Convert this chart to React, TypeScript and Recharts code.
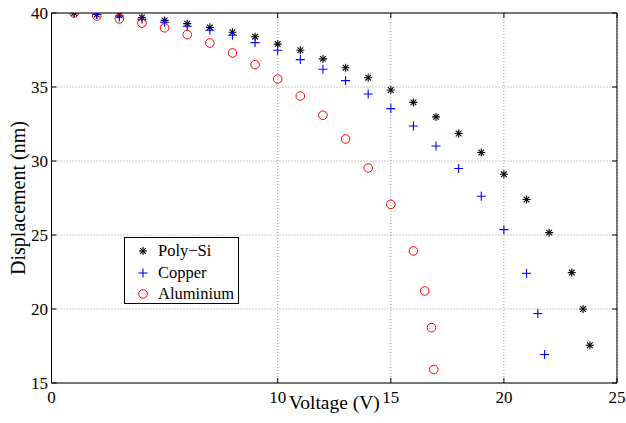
import React from 'react';
import {
  ScatterChart,
  Scatter,
  XAxis,
  YAxis,
  CartesianGrid,
  ReferenceArea,
} from 'recharts';

// ---- data ----
const polySiVoltage = [1, 2, 3, 4, 5, 6, 7, 8, 9, 10, 11, 12, 13, 14, 15, 16, 17, 18, 19, 20, 21, 22, 23, 23.5, 23.8];
const polySiDisp = [40, 39.9, 39.85, 39.7, 39.5, 39.28, 39.03, 38.7, 38.4, 37.9, 37.48, 36.9, 36.3, 35.63, 34.8, 33.96, 32.98, 31.86, 30.57, 29.1, 27.4, 25.16, 22.46, 20.0, 17.55];

const copperVoltage = [1, 2, 3, 4, 5, 6, 7, 8, 9, 10, 11, 12, 13, 14, 15, 16, 17, 18, 19, 20, 21, 21.5, 21.8];
const copperDisp = [40, 39.9, 39.73, 39.57, 39.37, 39.1, 38.83, 38.5, 38.0, 37.48, 36.85, 36.2, 35.43, 34.53, 33.54, 32.36, 31.01, 29.49, 27.62, 25.36, 22.41, 19.69, 16.92];

const aluminiumVoltage = [1, 2, 3, 4, 5, 6, 7, 8, 9, 10, 11, 12, 13, 14, 15, 16, 16.5, 16.8, 16.9];
const aluminiumDisp = [40, 39.8, 39.6, 39.32, 39.0, 38.54, 37.97, 37.3, 36.51, 35.54, 34.39, 33.09, 31.49, 29.53, 27.07, 23.92, 21.22, 18.74, 15.91];

const xTicks = [0, 10, 15, 20, 25];
const yTicks = [15, 20, 25, 30, 35, 40];
const seriesNames = ['Poly\u2212Si', 'Copper', 'Aluminium'];

const toPoints = (xs: number[], ys: number[]) => xs.map((x, i) => ({ x, y: ys[i] }));
const polySiData = toPoints(polySiVoltage, polySiDisp);
const copperData = toPoints(copperVoltage, copperDisp);
const aluminiumData = toPoints(aluminiumVoltage, aluminiumDisp);

// ---- layout constants ----
const W = 626;
const H = 423;
const PLOT_LEFT = 51.5;
const PLOT_RIGHT = 617;
const PLOT_TOP = 13;
const PLOT_BOTTOM = 383;
const FONT = "'Liberation Serif', 'DejaVu Serif', 'Times New Roman', serif";
const TICK_LEN = 5;

const Asterisk = ({ cx, cy, markerSize = 4 }: any) => {
  if (cx == null || cy == null) return null;
  const s = markerSize;
  const d = s * 0.7071;
  return (
    <g stroke="#000" strokeWidth={1.1}>
      <line x1={cx - s} y1={cy} x2={cx + s} y2={cy} />
      <line x1={cx} y1={cy - s} x2={cx} y2={cy + s} />
      <line x1={cx - d} y1={cy - d} x2={cx + d} y2={cy + d} />
      <line x1={cx - d} y1={cy + d} x2={cx + d} y2={cy - d} />
    </g>
  );
};

const Plus = ({ cx, cy, markerSize = 4.5 }: any) => {
  if (cx == null || cy == null) return null;
  const s = markerSize;
  return (
    <g stroke="#0000ff" strokeWidth={1.1}>
      <line x1={cx - s} y1={cy} x2={cx + s} y2={cy} />
      <line x1={cx} y1={cy - s} x2={cx} y2={cy + s} />
    </g>
  );
};

const Circle = ({ cx, cy, markerSize = 4.3 }: any) => {
  if (cx == null || cy == null) return null;
  return <circle cx={cx} cy={cy} r={markerSize} fill="none" stroke="#ff0000" strokeWidth={1} />;
};

const XTick = ({ x, payload }: any) => (
  <g>
    <line x1={x} y1={PLOT_BOTTOM} x2={x} y2={PLOT_BOTTOM - TICK_LEN} stroke="#000" strokeWidth={1} />
    <line x1={x} y1={PLOT_TOP} x2={x} y2={PLOT_TOP + TICK_LEN} stroke="#000" strokeWidth={1} />
    <text x={x} y={PLOT_BOTTOM + 19.5} textAnchor="middle" style={{ fontFamily: FONT, fontSize: 17 }} fill="#000">
      {payload.value}
    </text>
  </g>
);

const YTick = ({ y, payload }: any) => (
  <g>
    <line x1={PLOT_LEFT} y1={y} x2={PLOT_LEFT + TICK_LEN} y2={y} stroke="#000" strokeWidth={1} />
    <line x1={PLOT_RIGHT} y1={y} x2={PLOT_RIGHT - TICK_LEN} y2={y} stroke="#000" strokeWidth={1} />
    <text x={48} y={y} dy="0.38em" textAnchor="end" style={{ fontFamily: FONT, fontSize: 17 }} fill="#000">
      {payload.value}
    </text>
  </g>
);

const XLabel = ({ viewBox }: any) => {
  const cx = viewBox.x + viewBox.width / 2;
  return (
    <text x={cx} y={409} textAnchor="middle" style={{ fontFamily: FONT, fontSize: 19.5 }} fill="#000">
      Voltage (V)
    </text>
  );
};

const YLabel = ({ viewBox }: any) => {
  const cy = viewBox.y + viewBox.height / 2;
  return (
    <text
      x={25}
      y={cy}
      transform={`rotate(-90, 25, ${cy})`}
      textAnchor="middle"
      style={{ fontFamily: FONT, fontSize: 20 }}
      fill="#000"
    >
      Displacement (nm)
    </text>
  );
};

const legendMarkers = [
  <Asterisk cx={9} cy={9} markerSize={4} />,
  <Plus cx={9} cy={9} markerSize={4.5} />,
  <Circle cx={9} cy={9} markerSize={4.3} />,
];

export default function App() {
  return (
    <div style={{ position: 'absolute', left: 0, top: 0, width: W, height: H, background: '#fff' }}>
      <ScatterChart width={W} height={H} margin={{ top: PLOT_TOP, right: W - PLOT_RIGHT, bottom: 0, left: 0 }}>
        <CartesianGrid stroke="#999" strokeDasharray="1 2" strokeWidth={1} />
        <XAxis
          type="number"
          dataKey="x"
          domain={[0, 25]}
          ticks={xTicks}
          height={H - PLOT_BOTTOM}
          axisLine={false}
          tickLine={false}
          tickSize={0}
          tickMargin={0}
          tick={<XTick />}
          interval={0}
          allowDataOverflow
          label={<XLabel />}
        />
        <YAxis
          type="number"
          dataKey="y"
          domain={[15, 40]}
          ticks={yTicks}
          width={PLOT_LEFT}
          axisLine={false}
          tickLine={false}
          tickSize={0}
          tickMargin={0}
          tick={<YTick />}
          interval={0}
          allowDataOverflow
          label={<YLabel />}
        />
        <ReferenceArea x1={0} x2={25} y1={15} y2={40} fill="none" stroke="#000" strokeWidth={1} ifOverflow="visible" />
        <Scatter name={seriesNames[0]} data={polySiData} shape={<Asterisk />} isAnimationActive={false} />
        <Scatter name={seriesNames[1]} data={copperData} shape={<Plus />} isAnimationActive={false} />
        <Scatter name={seriesNames[2]} data={aluminiumData} shape={<Circle />} isAnimationActive={false} />
      </ScatterChart>
      <div
        style={{
          position: 'absolute',
          left: 124,
          top: 237,
          width: 113,
          height: 65,
          border: '1px solid #000',
          background: '#fff',
          fontFamily: FONT,
          fontSize: 16.5,
        }}
      >
        {seriesNames.map((name, i) => (
          <div
            key={name}
            style={{ position: 'absolute', left: 9, top: 4 + i * 21.5, height: 18, display: 'flex', alignItems: 'center' }}
          >
            <svg width={18} height={18} style={{ display: 'block' }}>
              {legendMarkers[i]}
            </svg>
            <span style={{ marginLeft: 6, lineHeight: '18px', whiteSpace: 'nowrap' }}>{name}</span>
          </div>
        ))}
      </div>
    </div>
  );
}
